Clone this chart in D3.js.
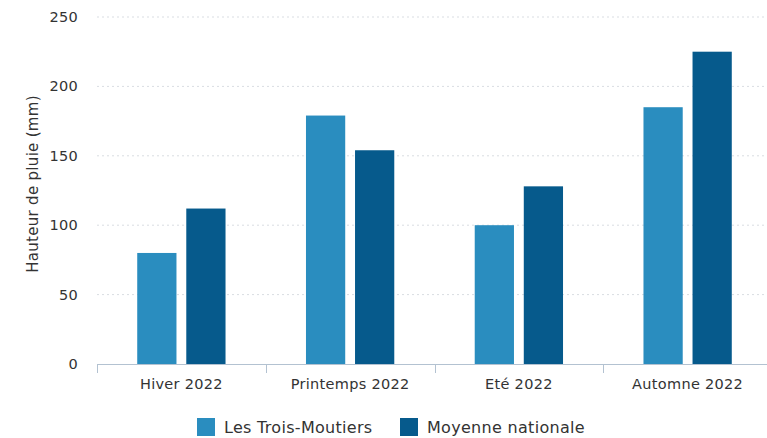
<!DOCTYPE html>
<html><head><meta charset="utf-8">
<script src="https://cdn.jsdelivr.net/npm/d3@7"></script>
<style>body{margin:0;background:#fff}svg{display:block}text{font-family:"DejaVu Sans",sans-serif}</style>
</head><body><svg id="c" width="767" height="438"></svg>
<script>
const categories = ["Hiver 2022","Printemps 2022","Eté 2022","Automne 2022"];
const seriesNames = ["Les Trois-Moutiers","Moyenne nationale"];
const trois = [80, 179, 100, 185];
const moyenne = [112, 154, 128, 225];
const yTicks = [0,50,100,150,200,250];
const colors = ["#2a8dbf","#065a8c"];

const svg = d3.select("#c");
const x = d3.scaleBand().domain(categories).range([97, 772]).paddingInner(0).paddingOuter(0);
const y = d3.scaleLinear().domain([0,250]).range([364, 17]);
const x1 = d3.scaleBand().domain(seriesNames).range([0, x.bandwidth()]).paddingInner(0.2).paddingOuter(0.82);

// grid
svg.append("g").selectAll("line").data(yTicks.filter(d=>d>0)).join("line")
  .attr("x1",97).attr("x2",767).attr("y1",d=>y(d)).attr("y2",d=>y(d))
  .attr("stroke","#d9dde2").attr("stroke-width",1).attr("stroke-dasharray","2,3");

// y labels
svg.append("g").selectAll("text").data(yTicks).join("text")
  .attr("x",78).attr("y",d=>y(d)).attr("dy","0.35em").attr("text-anchor","end")
  .attr("font-size",14.5).attr("letter-spacing","0.3").attr("fill","#333").text(d=>d);

svg.append("text").attr("transform","translate(38,184) rotate(-90)")
  .attr("text-anchor","middle").attr("font-size",15).attr("letter-spacing","0.3").attr("fill","#333")
  .text("Hauteur de pluie (mm)");

// bars
const data = categories.map((c,i)=>({c, vals:[trois[i], moyenne[i]]}));
const g = svg.append("g").selectAll("g").data(data).join("g")
  .attr("transform",d=>`translate(${x(d.c)},0)`);
g.selectAll("rect").data(d=>d.vals.map((v,j)=>({v,s:seriesNames[j],j}))).join("rect")
  .attr("x",d=>x1(d.s)).attr("width",x1.bandwidth())
  .attr("y",d=>y(d.v)).attr("height",d=>y(0)-y(d.v))
  .attr("fill",d=>colors[d.j]);

// x axis
svg.append("line").attr("x1",97).attr("x2",767).attr("y1",364.5).attr("y2",364.5)
  .attr("stroke","#b3c2d1").attr("stroke-width",1);
svg.append("g").selectAll("line").data(categories).join("line")
  .attr("x1",d=>Math.round(x(d))+0.5).attr("x2",d=>Math.round(x(d))+0.5)
  .attr("y1",364).attr("y2",373).attr("stroke","#b3c2d1");
svg.append("g").selectAll("text").data(categories).join("text")
  .attr("x",d=>x(d)+x.bandwidth()/2).attr("y",384).attr("dy","0.35em")
  .attr("text-anchor","middle").attr("font-size",14.5).attr("letter-spacing","0.3").attr("fill","#333").text(d=>d);

// legend
const leg = [{n:seriesNames[0],x:197},{n:seriesNames[1],x:400}];
const lg = svg.append("g").selectAll("g").data(leg).join("g")
  .attr("transform",d=>`translate(${d.x},418)`);
lg.append("rect").attr("width",18).attr("height",18).attr("fill",(d,i)=>colors[i]);
lg.append("text").attr("x",27).attr("y",9).attr("dy","0.35em").attr("font-size",16).attr("letter-spacing","0.3")
  .attr("fill","#333").text(d=>d.n);
</script></body></html>
